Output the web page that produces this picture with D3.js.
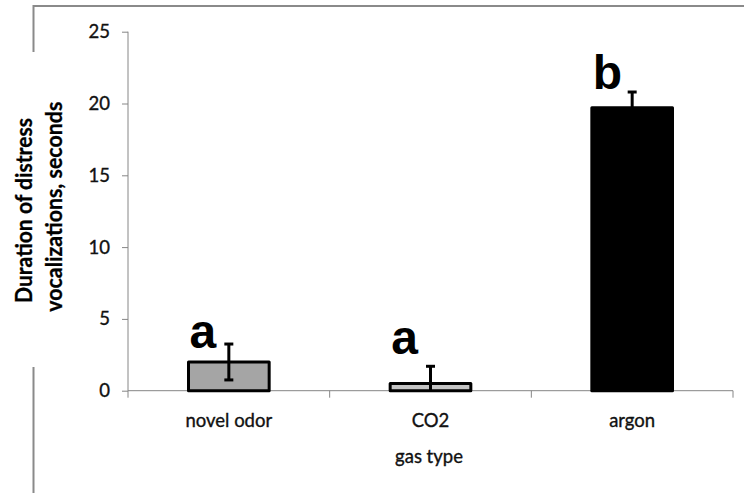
<!DOCTYPE html>
<html>
<head>
<meta charset="utf-8">
<script src="https://cdn.jsdelivr.net/npm/d3@7"></script>
<style>
  html, body { margin: 0; padding: 0; background: #fff; }
  svg { display: block; }
</style>
</head>
<body>
<svg id="chart" width="744" height="493"></svg>
<script>
// Distress vocalization duration by gas type (mean ± SE)
const categories = ["novel odor", "CO2", "argon"];
const means = [2.0, 0.5, 19.7];
const errors = [1.25, 1.2, 1.1];
const fills = ["#a5a5a5", "#c4c4c4", "#000000"];
const sigLetters = ["a", "a", "b"];
const sigLetterAt = [3.0, 2.55, 21.0];   // value level of each letter's baseline
const yTicks = [0, 5, 10, 15, 20, 25];
const yTitleLines = ["Duration of distress", "vocalizations, seconds"];
const xTitle = "gas type";

const svg = d3.select("#chart");
const axisGrey = "#868686";
const labelFont = "Lato, 'Open Sans', sans-serif";
const labelSize = 18.5;

// Slightly heavier label text
function labelStyle(sel) {
  sel.attr("font-family", labelFont)
    .attr("font-size", labelSize)
    .attr("fill", "#111")
    .attr("stroke", "#111")
    .attr("stroke-width", 0.35);
}

const plot = { left: 128, right: 733, top: 31.7, bottom: 390.7 };

const y = d3.scaleLinear().domain([0, 25]).range([plot.bottom, plot.top]);
const x = d3.scaleBand()
  .domain(categories)
  .range([plot.left, plot.right])
  .paddingInner(0.6)
  .paddingOuter(0.3);

// Outer frame (left side interrupted behind the axis title)
svg.append("path")
  .attr("d", "M33.5,52 V6 H744 M33.5,367 V493")
  .attr("fill", "none")
  .attr("stroke", "#8a8a8a")
  .attr("stroke-width", 2);

// Y axis
const yAxis = d3.axisLeft(y).tickValues(yTicks).tickSize(6).tickPadding(12).tickFormat(d3.format("d"));
const gy = svg.append("g").attr("transform", `translate(${plot.left},0)`).call(yAxis);
gy.select(".domain").remove();
gy.selectAll(".tick line").attr("stroke", axisGrey);
gy.selectAll(".tick text").call(labelStyle);
svg.append("line")
  .attr("x1", plot.left).attr("x2", plot.left)
  .attr("y1", y(25)).attr("y2", y(0) + 7)
  .attr("stroke", axisGrey);

// X axis with category separator ticks
svg.append("line")
  .attr("x1", plot.left).attr("x2", plot.right)
  .attr("y1", y(0)).attr("y2", y(0))
  .attr("stroke", axisGrey);
const step = x.step();
const separators = d3.range(categories.length + 1).map(i => plot.left + i * step);
svg.selectAll("line.sep").data(separators.slice(1)).join("line")
  .attr("class", "sep")
  .attr("x1", d => d).attr("x2", d => d)
  .attr("y1", y(0)).attr("y2", y(0) + 7)
  .attr("stroke", axisGrey);

svg.selectAll("text.cat").data(categories).join("text")
  .attr("class", "cat")
  .attr("x", d => x(d) + x.bandwidth() / 2)
  .attr("y", 427)
  .attr("text-anchor", "middle")
  .call(labelStyle)
  .text(d => d);

svg.append("text")
  .attr("x", 429)
  .attr("y", 463)
  .attr("text-anchor", "middle")
  .call(labelStyle)
  .text(xTitle);

// Y axis title, two rotated bold lines
const titleSpecs = [
  { text: yTitleLines[0], cx: 31.5, cy: 210.5, len: 185 },
  { text: yTitleLines[1], cx: 62, cy: 206.7, len: 210 }
];
titleSpecs.forEach(s => {
  svg.append("text")
    .attr("transform", `translate(${s.cx},${s.cy}) rotate(-90)`)
    .attr("text-anchor", "middle")
    .attr("font-family", labelFont)
    .attr("font-weight", "bold")
    .attr("font-size", 22)
    .attr("textLength", s.len)
    .attr("lengthAdjust", "spacingAndGlyphs")
    .attr("fill", "#000")
    .attr("stroke", "#000")
    .attr("stroke-width", 0.3)
    .text(s.text);
});

// Bars
const data = categories.map((c, i) => ({ c, m: means[i], e: errors[i], fill: fills[i], letter: sigLetters[i], at: sigLetterAt[i] }));

svg.selectAll("rect.bar").data(data).join("rect")
  .attr("class", "bar")
  .attr("x", d => x(d.c))
  .attr("y", d => y(d.m))
  .attr("width", x.bandwidth())
  .attr("height", d => y(0) - y(d.m))
  .attr("fill", d => d.fill)
  .attr("stroke", "#000")
  .attr("stroke-width", 3)
  .attr("stroke-linejoin", "round");

// Error bars (lower whisker clipped at zero)
const eb = svg.selectAll("g.err").data(data).join("g").attr("class", "err");
eb.append("line")
  .attr("x1", d => x(d.c) + x.bandwidth() / 2)
  .attr("x2", d => x(d.c) + x.bandwidth() / 2)
  .attr("y1", d => y(Math.max(0, d.m - d.e)))
  .attr("y2", d => y(d.m + d.e))
  .attr("stroke", "#000").attr("stroke-width", 3);
eb.append("line")
  .attr("x1", d => x(d.c) + x.bandwidth() / 2 - 4.5)
  .attr("x2", d => x(d.c) + x.bandwidth() / 2 + 4.5)
  .attr("y1", d => y(d.m + d.e))
  .attr("y2", d => y(d.m + d.e))
  .attr("stroke", "#000").attr("stroke-width", 3);
eb.filter(d => d.m - d.e > 0).append("line")
  .attr("x1", d => x(d.c) + x.bandwidth() / 2 - 4.5)
  .attr("x2", d => x(d.c) + x.bandwidth() / 2 + 4.5)
  .attr("y1", d => y(d.m - d.e))
  .attr("y2", d => y(d.m - d.e))
  .attr("stroke", "#000").attr("stroke-width", 3);

// Significance letters
svg.selectAll("text.sig").data(data).join("text")
  .attr("class", "sig")
  .attr("x", d => x(d.c) + 1)
  .attr("y", d => y(d.at))
  .attr("font-family", "'Liberation Sans', Arial, sans-serif")
  .attr("font-weight", "bold")
  .attr("font-size", 48)
  .attr("fill", "#000")
  .text(d => d.letter);
</script>
</body>
</html>
